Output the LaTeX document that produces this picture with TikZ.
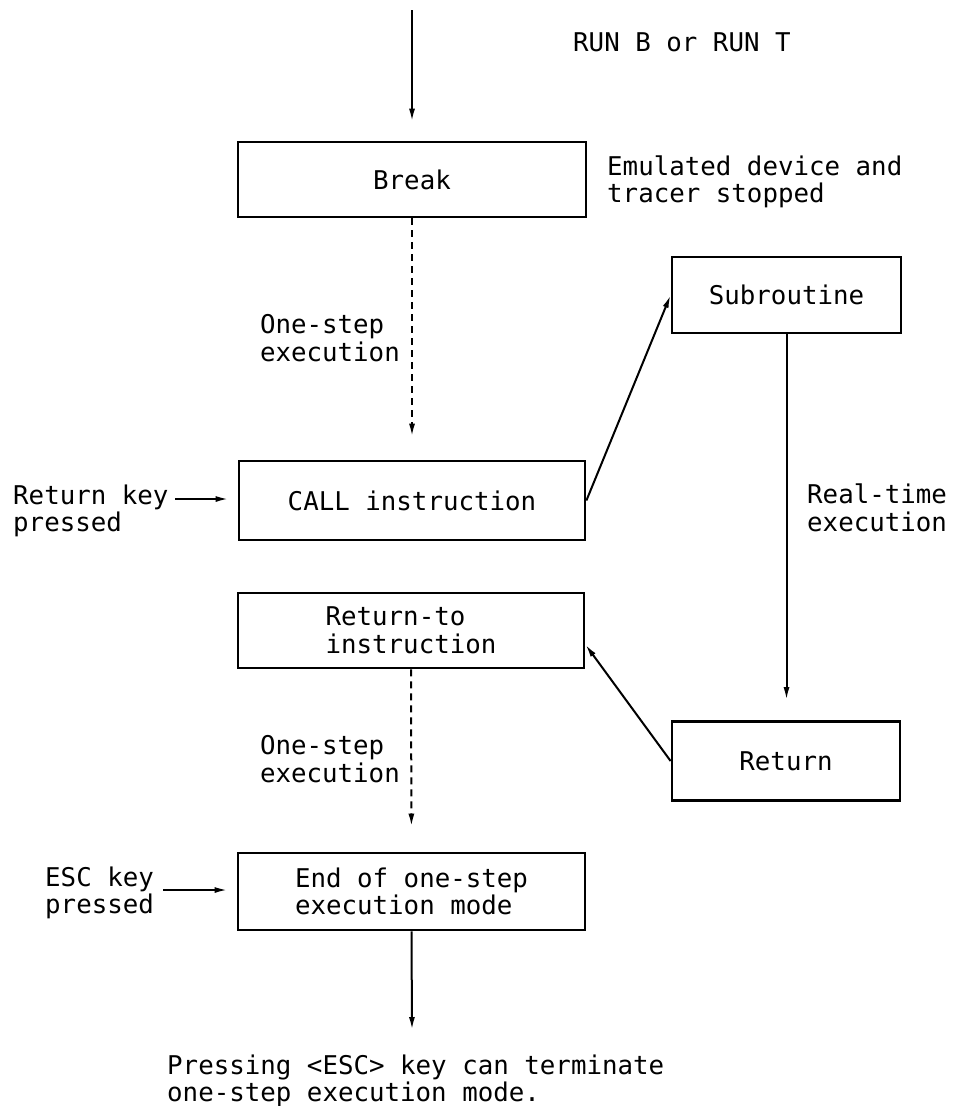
\documentclass[tikz,border=0pt]{standalone}
\usepackage{fontspec}
\newfontfamily\dotfont{DejaVu Sans Mono}
\usetikzlibrary{arrows.meta}
\begin{document}
\begin{tikzpicture}[x=1pt,y=-1pt,
  every node/.style={font=\dotfont\fontsize{25.8}{27.5}\selectfont},
  box/.style={draw, line width=2.8pt, inner sep=0pt, align=center},
  lbl/.style={inner sep=0pt, align=left, anchor=west},
  arr/.style={line width=2pt, -{Latex[length=13pt,width=6pt]}},
  dsh/.style={arr, dash pattern=on 7pt off 5pt}]

  % canvas
  \fill[white] (0,0) rectangle (962,1106);
  \useasboundingbox (0,0) rectangle (962,1106);

  % states
  \node[box, minimum width=348pt, minimum height=75pt] (brk) at (412,179.5) {Break};
  \node[box, minimum width=346pt, minimum height=79pt] (call) at (412,500.5) {CALL instruction};
  \node[box, minimum width=229pt, minimum height=76pt] (sub) at (786.5,295) {Subroutine};
  \node[box, minimum width=346pt, minimum height=75pt, align=left] (rto) at (411,630.5) {Return-to\\instruction};
  \node[box, minimum width=228pt, minimum height=79pt] (ret) at (786,761) {Return};
  \node[box, minimum width=347pt, minimum height=77pt, align=left] (endm) at (411.5,891.5) {End of one-step\\execution mode};

  % annotations
  \node[lbl] (run) at (573,42) {RUN B or RUN T};
  \node[lbl] (emu) at (607,182) {Emulated device and\\tracer stopped};
  \node[lbl, anchor=east] (os1) at (400,338) {One-step\\execution};
  \node[lbl] (rk) at (13,511) {Return key\\pressed};
  \node[lbl] (rt) at (807,508) {Real-time\\execution};
  \node[lbl, anchor=east] (os2) at (400,759) {One-step\\execution};
  \node[lbl] (esc) at (45,893) {ESC key\\pressed};
  \node[lbl] (note) at (167,1081) {Pressing <ESC> key can terminate\\one-step execution mode.};

  % free ends
  \coordinate (top) at (412,10);
  \coordinate (bot) at (412,1030);
  \coordinate (rkA) at (175,499);
  \coordinate (escA) at (163,890);

  % flow
  \draw[arr, shorten >=19pt] (top) -- (brk.north);
  \draw[dsh, shorten >=23pt] (brk.south) -- (call.north);
  \draw[arr] (call.east) -- (sub.west);
  \draw[arr, shorten >=20pt] (sub.south) -- (sub.south |- ret.north);
  \draw[arr] (ret.west) -- ([yshift=-14pt]rto.east);
  \draw[dsh, shorten >=25pt] (rto.south) -- (endm.north);
  \draw[arr] (endm.south) -- (bot);
  \draw[arr, shorten >=9pt] (rkA) -- (rkA -| call.west);
  \draw[arr, shorten >=9pt] (escA) -- (escA -| endm.west);
\end{tikzpicture}
\end{document}
